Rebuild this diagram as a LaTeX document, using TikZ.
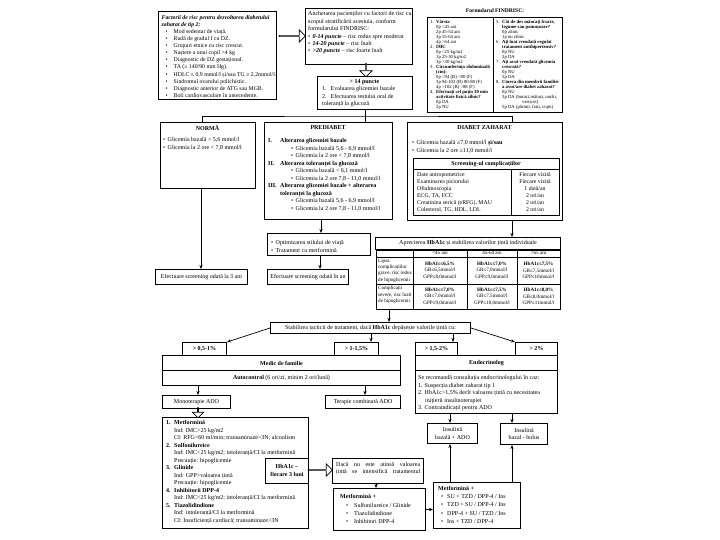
\documentclass[tikz,border=0pt]{standalone}
\usepackage{fontspec}
\setmainfont{Liberation Serif}
\usetikzlibrary{arrows.meta,calc,shapes.arrows}
\newcommand\fsN{\fontsize{6}{7.3}\selectfont}
\newcommand\fsR{\fontsize{5.8}{7.1}\selectfont}
\newcommand\fsP{\fontsize{6}{7.5}\selectfont}
\newcommand\fsT{\fontsize{5.1}{6.3}\selectfont}
\newcommand\fsF{\fontsize{4.7}{5.0}\selectfont}
\newcommand\fsM{\fontsize{6}{8.2}\selectfont}
\newcommand\bul{\makebox[4.5pt][l]{•}}
\newcommand\rbul{\makebox[12pt][l]{\hspace{4pt}•}}
\newcommand\fin{\hspace*{6pt}}
\newcommand\mybox[6]{\node[frame, minimum width=#4pt, minimum height=#5pt] (#1) at (#2,#3) {#6};}
\begin{document}
\begin{tikzpicture}[x=1pt,y=-1pt,
 frame/.style={draw, line width=1pt, inner sep=0pt, anchor=north west, font=\fsN, fill=white, align=center},
 txt/.style={inner sep=0pt, anchor=north west, align=left, font=\fsN},
 ctxt/.style={inner sep=0pt, anchor=north, align=center, font=\fsN},
 arr/.style={-{Stealth[length=4pt,width=3.2pt]}, line width=0.7pt},
 ln/.style={line width=0.7pt},
 hol/.style={single arrow, draw, line width=0.7pt, inner sep=0pt, minimum width=12pt, single arrow head extend=3pt, fill=white}]
\useasboundingbox (0,0) rectangle (720,540);

% ---------- risk factors ----------
\mybox{risk}{158}{11}{118}{88}{}
\node[txt,font=\fsR] (riskt) at (161.5,15) {\textbf{\textit{Factorii de risc pentru dezvoltarea diabetului}}\\
\textbf{\textit{zaharat de tip 2:}}\\
\rbul Mod sedentar de viață.\\
\rbul Rudă de gradul I cu DZ.\\
\rbul Grupuri etnice cu risc crescut.\\
\rbul Naștere a unui copil >4 kg\\
\rbul Diagnostic de DZ gestațional.\\
\rbul TA (≥ 140/90 mm Hg).\\
\rbul HDLC ≤ 0,9 mmol/l și/sau TG ≥ 2,2mmol/l.\\
\rbul Sindromul ovarului polichistic.\\
\rbul Diagnostic anterior de ATG sau MGB.\\
\rbul Boli cardiovasculare în antecedente.};

\node[hol, minimum height=26pt] (ha1) at (292,36) {};

% ---------- FINDRISC questionnaire text ----------
\mybox{fq}{305}{8}{107}{56}{}
\node[txt] (fqt) at (308,11.5) {Anchetarea pacienților cu factori de risc cu\\
scopul stratificării acestuia, conform\\
formularului FINDRISC:\\[0.5pt]
\bul\textbf{\textit{0-14 puncte}} – risc redus spre moderat\\
\bul\textbf{\textit{14-20 puncte}} – risc înalt\\
\bul\textbf{\textit{>20 puncte}} – risc foarte înalt};

\node[hol, shape border rotate=270, minimum height=13pt] (ha2) at (366,70) {};

\mybox{p14}{317}{76}{95}{33}{}
\node[ctxt] (p14h) at (364.5,79) {\textbf{> 14 puncte}};
\node[txt] (p14t) at (322,86.5) {1.\hspace{4pt}Evaluarea glicemiei bazale\\2.\hspace{4pt}Efectuarea testului oral de\\toleranță la glucoză};

% ---------- FINDRISC table ----------
\node[inner sep=0pt, font=\fontsize{5.6}{6}\selectfont\bfseries] (fth) at (495,11) {Formularul FINDRISC:};
\node[frame, line width=1.2pt, minimum width=135pt, minimum height=95pt] (ftab) at (427,17) {};
\draw[ln] (493,17) -- (493,112);
\node[txt,font=\fsF] (ftl) at (430,19.5) {\makebox[6pt][l]{1.}\textbf{Vârsta}\\
\fin 0p <45 ani\\ \fin 2p 45-54 ani\\ \fin 3p 55-64 ani\\ \fin 4p >64 ani\\
\makebox[6pt][l]{2.}\textbf{IMC}\\
\fin 0p <25 kg/m2\\ \fin 1p 25-30 kg/m2\\ \fin 3p >30 kg/m2\\
\makebox[6pt][l]{3.}\textbf{Circumferința abdominală}\\ \fin\textbf{(cm):}\\
\fin 0p <94 (B) <80 (F)\\ \fin 3p 94-102 (B) 80-88 (F)\\ \fin 4p >102 (B) >88 (F)\\
\makebox[6pt][l]{4.}\textbf{Efectuați cel puțin 30 min}\\ \fin\textbf{activitate fizică zilnic?}\\
\fin 0p DA\\ \fin 2p NU};
\node[txt,font=\fsF] (ftr) at (496,19.5) {\makebox[6pt][l]{5.}\textbf{Cât de des mâncați fructe,}\\ \fin\textbf{legume sau pomușoare?}\\
\fin 0p zilnic\\ \fin 1p nu zilnic\\
\makebox[6pt][l]{6.}\textbf{Ați luat vreodată regulat}\\ \fin\textbf{tratament antihipertensiv?}\\
\fin 0p NU\\ \fin 2p DA\\
\makebox[6pt][l]{7.}\textbf{Ați avut vreodată glicemia}\\ \fin\textbf{crescută?}\\
\fin 0p NU\\ \fin 5p DA\\
\makebox[6pt][l]{8.}\textbf{Cineva din membrii familiei}\\ \fin\textbf{a avut/are diabet zaharat?}\\
\fin 0p NU\\ \fin 3p DA (bunici,mătuși, unchi,\\ \hspace*{26pt}verișori)\\ \fin 5p DA (părinți, frați, copii)};

% ---------- NORMA / PREDIABET / DIABET ----------
\mybox{normal}{160}{122}{95}{66}{}
\node[ctxt] (normh) at (207.5,125) {\textbf{NORMĂ}};
\node[txt] (normt) at (163,137.5) {\bul Glicemia bazală < 5,6 mmol/l\\\bul Glicemia la 2 ore < 7,8 mmol/l};

\mybox{pred}{264}{122}{128}{97}{}
\node[ctxt] (predh) at (328,125) {\textbf{PREDIABET}};
\node[txt,font=\fsP] (predt) at (268,138.5) {\makebox[12pt][l]{\textbf{I.}}\textbf{Alterarea glicemiei bazale}\\
\hspace*{23pt}\bul Glicemia bazală 5,6 - 6,9 mmol/l\\
\hspace*{23pt}\bul Glicemia la 2 ore < 7,8 mmol/l\\
\makebox[12pt][l]{\textbf{II.}}\textbf{Alterarea toleranței la glucoză}\\
\hspace*{23pt}\bul Glicemia bazală < 6,1 mmol/l\\
\hspace*{23pt}\bul Glicemia la 2 ore 7,8 - 11,0 mmol/l\\
\makebox[12pt][l]{\textbf{III.}}\textbf{Alterarea glicemiei bazale + alterarea}\\
\hspace*{12pt}\textbf{toleranței la glucoză}\\
\hspace*{23pt}\bul Glicemia bazală 5,6 - 6,9 mmol/l\\
\hspace*{23pt}\bul Glicemia la 2 ore 7,8 - 11,0 mmol/l};

\mybox{diab}{407}{122}{155}{98}{}
\node[ctxt] (diabh) at (484.5,125) {\textbf{DIABET ZAHARAT}};
\node[txt,font=\fsP] (diabt) at (412,140.5) {\bul Glicemia bazală ≥7,0 mmol/l \textbf{și/sau}\\\bul Glicemia la 2 ore ≥11,0 mmol/l};
\node[frame, minimum width=146pt, minimum height=57pt] (scr) at (413,158) {};
\draw[ln] (413,169) -- (559,169);
\draw[ln] (511,169) -- (511,215);
\node[ctxt] (scrh) at (486,161.5) {\textbf{Screening-ul complicațiilor}};
\node[txt,font=\fsR] (scrl) at (417,172) {Date antropometrice\\Examinarea piciorului\\Oftalmoscopia\\ECG, TA, FCC\\Creatinina serică (eRFG), MAU\\Colesterol, TG, HDL, LDL};
\node[ctxt,font=\fsR] (scrr) at (535,172) {Fiecare vizită\\Fiecare vizită\\1 dată/an\\2 ori/an\\2 ori/an\\2 ori/an};

% top connectors
\coordinate (j) at ($(p14.south)+(0,6)$);
\coordinate (nt) at ($(normal.north west)+(42,0)$);
\coordinate (dt) at ($(diab.north west)+(105,0)$);
\draw[ln] (p14.south) -- (j |- pred.north);
\draw[ln] (nt) |- (j) -| (dt);

% ---------- screening boxes ----------
\mybox{opt}{267}{233}{103}{22}{}
\node[txt] (optt) at (271,240.5) {\bul Optimizarea stilului de viață\\\bul Tratament cu metformină};
\mybox{scr3}{155}{269}{92}{15}{Efectuare screening odată la 3 ani}
\mybox{scr1}{267}{269}{81}{15}{Efectuare screening odată în an}

\coordinate (n1) at ($(normal.south west)+(41,0)$);
\draw[arr] (n1) -- (n1 |- scr3.north);
\coordinate (p1) at ($(pred.south west)+(57,0)$);
\draw[arr] (p1) -- (p1 |- opt.north);
\coordinate (o1) at ($(opt.south west)+(53,0)$);
\draw[arr] (o1) -- (o1 |- scr1.north);

% ---------- HbA1c ----------
\mybox{aprec}{375}{237}{185}{12}{Aprecierea \textbf{HbA1c} și stabilirea valorilor țintă individuale}
\coordinate (d1) at ($(diab.south west)+(105,0)$);
\draw[arr] (d1) -- (d1 |- aprec.north);

\node[frame, minimum width=184pt, minimum height=59pt] (htab) at (376,250) {};
\draw[ln] (376,257) -- (560,257);
\draw[ln] (376,284) -- (560,284);
\draw[ln] (413,250) -- (413,309);
\draw[ln] (467,250) -- (467,309);
\draw[ln] (517,250) -- (517,309);
\node[ctxt,font=\fsT] (hh1) at (440,251.2) {<45 ani};
\node[ctxt,font=\fsT] (hh2) at (492,251.2) {45-64 ani};
\node[ctxt,font=\fsT] (hh3) at (538.5,251.2) {>65 ani};
\node[txt,font=\fsT] (hr1) at (378,258.8) {Lipsa\\complicațiilor\\grave, risc redus\\de hipoglicemii};
\node[txt,font=\fsT] (hr2) at (378,286) {Complicații\\severe, risc înalt\\de hipoglicemii};
\node[ctxt,font=\fsT,anchor=center] (c11) at (440,270.5) {\textbf{HbA1c≤6,5\%}\\GB≤6,5mmol/l\\GPP≤8,0mmol/l};
\node[ctxt,font=\fsT,anchor=center] (c12) at (492,270.5) {\textbf{HbA1c≤7,0\%}\\GB≤7,0mmol/l\\GPP≤9,0mmol/l};
\node[ctxt,font=\fsT,anchor=center] (c13) at (538.5,270.5) {\textbf{HbA1c≤7,5\%}\\GB≤7,5mmol/l\\GPP≤10mmol/l};
\node[ctxt,font=\fsT,anchor=center] (c21) at (440,296.5) {\textbf{HbA1c≤7,0\%}\\GB≤7,0mmol/l\\GPP≤9,0mmol/l};
\node[ctxt,font=\fsT,anchor=center] (c22) at (492,296.5) {\textbf{HbA1c≤7,5\%}\\GB≤7,5mmol/l\\GPP≤10,0mmol/l};
\node[ctxt,font=\fsT,anchor=center] (c23) at (538.5,296.5) {\textbf{HbA1c≤8,0\%}\\GB≤8,0mmol/l\\GPP≤11mmol/l};

% ---------- treatment tactics ----------
\mybox{stab}{270}{322}{200}{11}{Stabilirea tacticii de tratament, dacă \textbf{HbA1c} depășește valorile țintă cu:}
\coordinate (hb) at ($(htab.south west)+(13,0)$);
\draw[arr] (hb) -- (hb |- stab.north);

\mybox{b1}{182}{342}{44}{13}{\textbf{> 0,5-1\%}}
\mybox{b2}{334}{342}{44}{13}{\textbf{> 1-1,5\%}}
\mybox{b3}{415}{342}{42}{13}{\textbf{> 1,5-2\%}}
\mybox{b4}{515}{342}{42}{13}{\textbf{> 2\%}}

\draw[arr] (stab.west) -- (b1.north east);
\coordinate (s2) at ($(b2.north east)+(-8,0)$);
\draw[arr] (s2 |- stab.south) -- (s2);
\coordinate (s3) at ($(b3.north east)+(-5,0)$);
\draw[arr] (s3 |- stab.south) -- (s3);
\draw[arr] (stab.east) -- (b4.north west);

\mybox{mf}{162}{355}{238}{15}{\textbf{Medic de familie}}
\mybox{autoc}{162}{370}{238}{15}{\textbf{Autocontrol} (6 ori/zi, minim 2 ori/lună)}
\mybox{endh}{415}{355}{142}{15}{\textbf{Endocrinolog}}
\mybox{endb}{415}{370}{142}{43}{}
\node[txt,font=\fsP] (endt) at (418,375.5) {Se recomandă consultația endocrinologului în caz:\\1. Suspecția diabet zaharat tip 1\\2. HbA1c>1,5\% decît valoarea țintă cu necesitatea\\\hspace*{7pt}inițierii insulinoterapiei\\3. Contraindicații pentru ADO};

\mybox{mono}{162}{395}{68}{13}{Monoterapie ADO}
\mybox{comb}{325}{395}{75}{13}{Terapie combinată ADO}
\coordinate (a1) at ($(mono.north west)+(36,0)$);
\draw[arr] (a1 |- autoc.south) -- (a1);
\coordinate (a2) at ($(comb.north west)+(40,0)$);
\draw[arr] (a2 |- autoc.south) -- (a2);

\node[hol, shape border rotate=270, minimum height=10pt, minimum width=11pt] (ha3) at (198,412.5) {};

\mybox{list}{162}{417}{146}{111}{}
\node[txt,font=\fsP] (listt) at (166,420.5) {\makebox[8pt][l]{\textbf{1.}}\textbf{Metformină}\\
\hspace*{8pt}Ind: IMC>25 kg/m2\\
\hspace*{8pt}CI: RFG<60 ml/min; transaminaze>3N; alcoolism\\
\makebox[8pt][l]{\textbf{2.}}\textbf{Sulfonilureice}\\
\hspace*{8pt}Ind: IMC<25 kg/m2; intoleranță/CI la metformină\\
\hspace*{8pt}Precauție: hipoglicemie\\
\makebox[8pt][l]{\textbf{3.}}\textbf{Glinide}\\
\hspace*{8pt}Ind: GPP>valoarea țintă\\
\hspace*{8pt}Precauție: hipoglicemie\\
\makebox[8pt][l]{\textbf{4.}}\textbf{Inhibitorii DPP-4}\\
\hspace*{8pt}Ind: IMC<25 kg/m2; intoleranță/CI la metformină\\
\makebox[8pt][l]{\textbf{5.}}\textbf{Tiazolidindione}\\
\hspace*{8pt}Ind: intoleranță/CI la metformină\\
\hspace*{8pt}CI: Insuficiență cardiacă; transaminaze>3N};

\mybox{hba}{265}{457.5}{43}{25}{\textbf{HbA1c –}\\\textbf{fiecare 3 luni}}
\node[hol, minimum height=24pt] (ha4) at (320,470) {};
\mybox{daca}{332}{457.5}{91}{25}{}
\node[txt, text width=84pt] (dacat) at (336,462) {Dacă\hfill nu\hfill este\hfill atinsă\hfill valoarea\\țintă\hfill se\hfill intensifică\hfill tratamentul};

\mybox{met1}{333}{488}{92}{42}{}
\node[txt,font=\fsM] (met1t) at (340,494.5) {\textbf{Metformină +}\\
\hspace*{6pt}\makebox[8pt][l]{•}Sulfonilureice / Glinide\\
\hspace*{6pt}\makebox[8pt][l]{•}Tiazolidindione\\
\hspace*{6pt}\makebox[8pt][l]{•}Inhibitori DPP-4};
\coordinate (dc) at ($(daca.south west)+(44,0)$);
\draw[arr] (dc) -- (dc |- met1.north);

\mybox{met2}{433}{482}{87}{46}{}
\node[txt,font=\fsM] (met2t) at (438,486) {\textbf{Metformină +}\\
\hspace*{3pt}\makebox[6pt][l]{•}SU + TZD / DPP-4 / Ins\\
\hspace*{3pt}\makebox[6pt][l]{•}TZD + SU / DPP-4 / Ins\\
\hspace*{3pt}\makebox[6pt][l]{•}DPP-4 + SU / TZD / Ins\\
\hspace*{3pt}\makebox[6pt][l]{•}Ins + TZD / DPP-4};
\draw[arr] (met1.east) -- (met1.east -| met2.west);

\mybox{ins1}{427}{423}{50}{20}{Insulină\\bazală + ADO}
\mybox{ins2}{500}{423}{47}{21}{Insulină\\bazal - bolus}
\coordinate (e1) at ($(ins1.north west)+(23,0)$);
\draw[arr] (e1 |- endb.south) -- (e1);
\coordinate (e2) at ($(ins2.north west)+(12,0)$);
\draw[arr] (e2 |- endb.south) -- (e2);
\draw[arr] (e1 |- met2.north) -- (e1 |- ins1.south);
\draw[arr] (e2 |- met2.north) -- (e2 |- ins2.south);
\end{tikzpicture}
\end{document}
